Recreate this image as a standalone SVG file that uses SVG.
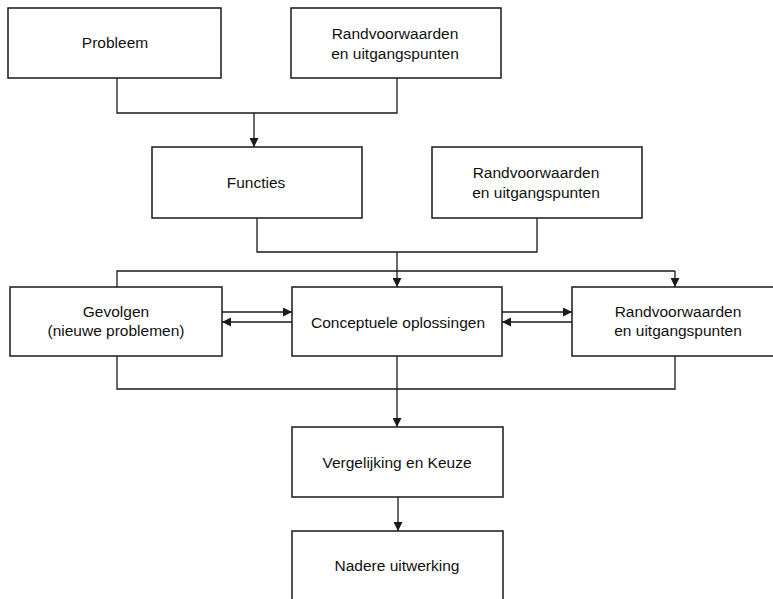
<svg xmlns="http://www.w3.org/2000/svg" width="773" height="599" viewBox="0 0 773 599">
<style>
.box{fill:#fff;stroke:#1a1a1a;stroke-width:1.5}
.t{font-family:"Liberation Sans",Arial,sans-serif;font-size:15.5px;fill:#111;text-anchor:middle}
.c{fill:none;stroke:#1a1a1a;stroke-width:1.3}
</style>
<defs>
<marker id="ah" viewBox="0 0 10 10" refX="10" refY="5" markerWidth="9" markerHeight="9" markerUnits="userSpaceOnUse" orient="auto">
<path d="M0,0 L10,5 L0,10 z" fill="#1a1a1a"/>
</marker>
</defs>
<rect width="773" height="599" fill="#fff"/>
<g id="connectors">
<path class="c" d="M117,78 V113 H397 V78"/>
<path class="c" d="M254,113 V147" marker-end="url(#ah)"/>
<path class="c" d="M257,218 V252 H537 V218"/>
<path class="c" d="M397,252 V287" marker-end="url(#ah)"/>
<path class="c" d="M117,287 V271 H675"/>
<path class="c" d="M675,271 V287" marker-end="url(#ah)"/>
<path class="c" d="M222,312 H292" marker-end="url(#ah)"/>
<path class="c" d="M292,322 H222" marker-end="url(#ah)"/>
<path class="c" d="M502,312 H572" marker-end="url(#ah)"/>
<path class="c" d="M572,322 H502" marker-end="url(#ah)"/>
<path class="c" d="M117,356 V389 H675 V356"/>
<path class="c" d="M397,356 V427" marker-end="url(#ah)"/>
<path class="c" d="M398,497 V531" marker-end="url(#ah)"/>
</g>
<g id="probleem"><rect class="box" x="8" y="8" width="213" height="70"/><text class="t" x="115" y="48">Probleem</text></g>
<g id="rand1"><rect class="box" x="291" y="8" width="210" height="70"/><text class="t" x="395" y="39">Randvoorwaarden</text><text class="t" x="395" y="59">en uitgangspunten</text></g>
<g id="functies"><rect class="box" x="152" y="147" width="210" height="71"/><text class="t" x="256" y="188">Functies</text></g>
<g id="rand2"><rect class="box" x="432" y="147" width="210" height="71"/><text class="t" x="536" y="178">Randvoorwaarden</text><text class="t" x="536" y="198">en uitgangspunten</text></g>
<g id="gevolgen"><rect class="box" x="10" y="287" width="212" height="69"/><text class="t" x="116" y="317">Gevolgen</text><text class="t" x="116" y="336">(nieuwe problemen)</text></g>
<g id="conceptuele"><rect class="box" x="292" y="287" width="210" height="69"/><text class="t" x="398" y="328">Conceptuele oplossingen</text></g>
<g id="rand3"><rect class="box" x="572" y="287" width="215" height="69"/><text class="t" x="678" y="317">Randvoorwaarden</text><text class="t" x="678" y="336">en uitgangspunten</text></g>
<g id="vergelijking"><rect class="box" x="292" y="427" width="211" height="70"/><text class="t" x="397" y="468">Vergelijking en Keuze</text></g>
<g id="nadere"><rect class="box" x="292" y="531" width="211" height="80"/><text class="t" x="397" y="571">Nadere uitwerking</text></g>
</svg>
